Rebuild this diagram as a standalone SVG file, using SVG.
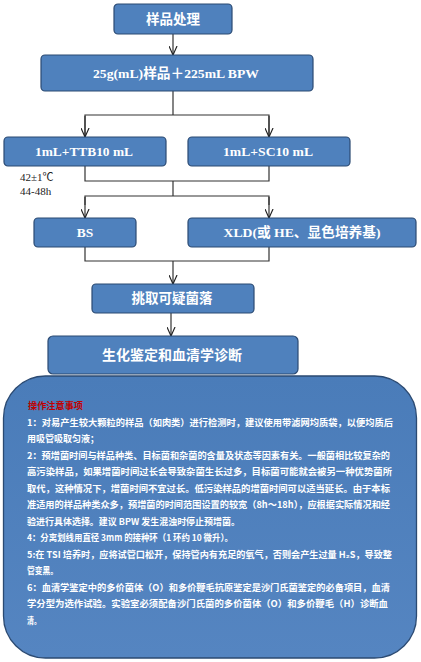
<svg xmlns="http://www.w3.org/2000/svg" width="421" height="662" viewBox="0 0 421 662">
<style>
.box{fill:#4f81bd;stroke:#2b4a72;stroke-width:1.2}
.lbl{font-family:"Liberation Serif","Noto Sans CJK SC",serif;font-weight:bold;fill:#fff;text-anchor:middle;font-size:13.5px}
.cn{stroke:#333;stroke-width:1.2;fill:none}
.note{font-family:"Noto Sans CJK SC","Liberation Sans",sans-serif;font-weight:bold;fill:#fff;font-size:9.4px}
.tmp{font-family:"Liberation Serif","Noto Sans CJK SC",serif;fill:#222;font-size:11px}
</style>
<defs>
<marker id="ah" viewBox="0 0 10 10" refX="10" refY="5" markerWidth="9" markerHeight="9" markerUnits="userSpaceOnUse" orient="auto">
<path d="M0,0.5 L10,5 L0,9.5" fill="none" stroke="#222" stroke-width="1.3"/>
</marker>
<linearGradient id="bg" x1="0" y1="0" x2="0" y2="1">
<stop offset="0" stop-color="#4a7cb9"/>
<stop offset="1" stop-color="#5585c1"/>
</linearGradient>
</defs>
<rect width="421" height="662" fill="#fff"/>
<g id="connectors">
<line class="cn" x1="173" y1="34" x2="173" y2="55" marker-end="url(#ah)"/>
<polyline class="cn" points="173,91 173,115"/>
<polyline class="cn" points="85,137 85,115 269,115 269,137"/>
<line class="cn" x1="85" y1="116" x2="85" y2="137" marker-end="url(#ah)"/>
<line class="cn" x1="269" y1="116" x2="269" y2="137" marker-end="url(#ah)"/>
<polyline class="cn" points="85,166 85,181 269,181 269,166"/>
<polyline class="cn" points="173,181 173,196"/>
<polyline class="cn" points="85,205 85,196 269,196 269,205"/>
<line class="cn" x1="85" y1="197" x2="85" y2="218" marker-end="url(#ah)"/>
<line class="cn" x1="269" y1="197" x2="269" y2="218" marker-end="url(#ah)"/>
<polyline class="cn" points="85,247 85,261 269,261 269,247"/>
<line class="cn" x1="173" y1="261" x2="173" y2="284" marker-end="url(#ah)"/>
<line class="cn" x1="171" y1="313" x2="171" y2="336" marker-end="url(#ah)"/>
</g>
<g id="n1"><rect class="box" x="114" y="4" width="118" height="30" rx="4"/><text class="lbl" x="173" y="24">样品处理</text></g>
<g id="n2"><rect class="box" x="41" y="55" width="272" height="36" rx="4"/><text class="lbl" x="176" y="78" textLength="166" lengthAdjust="spacingAndGlyphs">25g(mL)样品＋225mL BPW</text></g>
<g id="n3"><rect class="box" x="4" y="137" width="162" height="29" rx="4"/><text class="lbl" x="84" y="156" textLength="98" lengthAdjust="spacingAndGlyphs">1mL+TTB10 mL</text></g>
<g id="n4"><rect class="box" x="188" y="137" width="162" height="29" rx="4"/><text class="lbl" x="268" y="156" textLength="90" lengthAdjust="spacingAndGlyphs">1mL+SC10 mL</text></g>
<g id="temp"><text class="tmp" x="20" y="181">42±1℃</text><text class="tmp" x="20" y="195">44-48h</text></g>
<g id="n5"><rect class="box" x="34" y="218" width="102" height="29" rx="4"/><text class="lbl" x="85" y="237">BS</text></g>
<g id="n6"><rect class="box" x="188" y="218" width="228" height="29" rx="4"/><text class="lbl" x="302" y="237" textLength="157" lengthAdjust="spacingAndGlyphs">XLD(或 HE、显色培养基)</text></g>
<g id="n7"><rect class="box" x="92" y="284" width="162" height="29" rx="4"/><text class="lbl" x="172" y="303">挑取可疑菌落</text></g>
<g id="n8"><rect class="box" x="48" y="336" width="250" height="38" rx="5"/><text class="lbl" x="172" y="360" style="font-size:14px">生化鉴定和血清学诊断</text></g>
<g id="n9">
<rect x="3.5" y="376" width="413" height="282" rx="42" fill="url(#bg)" stroke="#2b4a72" stroke-width="1.3"/>
<text x="28" y="409" style="font-family:'Noto Sans CJK SC',sans-serif;font-weight:bold;font-size:9.4px;fill:#c00000" textLength="55" lengthAdjust="spacingAndGlyphs">操作注意事项</text>
<text class="note" x="27" y="425.5" textLength="366" lengthAdjust="spacingAndGlyphs">1：对易产生较大颗粒的样品（如肉类）进行检测时，建议使用带滤网均质袋，以便均质后</text>
<text class="note" x="27" y="442" textLength="72" lengthAdjust="spacingAndGlyphs">用吸管吸取匀液；</text>
<text class="note" x="27" y="458.5" textLength="363" lengthAdjust="spacingAndGlyphs">2：预增菌时间与样品种类、目标菌和杂菌的含量及状态等因素有关。一般菌相比较复杂的</text>
<text class="note" x="27" y="475" textLength="365" lengthAdjust="spacingAndGlyphs">高污染样品，如果增菌时间过长会导致杂菌生长过多，目标菌可能就会被另一种优势菌所</text>
<text class="note" x="27" y="491.5" textLength="363" lengthAdjust="spacingAndGlyphs">取代，这种情况下，增菌时间不宜过长。低污染样品的增菌时间可以适当延长。由于本标</text>
<text class="note" x="27" y="508" textLength="363" lengthAdjust="spacingAndGlyphs">准适用的样品种类众多，预增菌的时间范围设置的较宽（8h～18h），应根据实际情况和经</text>
<text class="note" x="27" y="524.5" textLength="213" lengthAdjust="spacingAndGlyphs">验进行具体选择。建议 BPW 发生混浊时停止预增菌。</text>
<text class="note" x="27" y="541" textLength="206" lengthAdjust="spacingAndGlyphs">4：分离划线用直径 3mm 的接种环（1 环约 10 微升）。</text>
<text class="note" x="27" y="557.5" textLength="365" lengthAdjust="spacingAndGlyphs">5:在 TSI 培养时，应将试管口松开，保持管内有充足的氧气，否则会产生过量 H₂S，导致整</text>
<text class="note" x="27" y="574" textLength="31" lengthAdjust="spacingAndGlyphs">管变黑。</text>
<text class="note" x="27" y="590.5" textLength="363" lengthAdjust="spacingAndGlyphs">6：血清学鉴定中的多价菌体（O）和多价鞭毛抗原鉴定是沙门氏菌鉴定的必备项目，血清</text>
<text class="note" x="27" y="607" textLength="361" lengthAdjust="spacingAndGlyphs">学分型为选作试验。实验室必须配备沙门氏菌的多价菌体（O）和多价鞭毛（H）诊断血</text>
<text class="note" x="27" y="623.5" textLength="14" lengthAdjust="spacingAndGlyphs">清。</text>
</g>
</svg>
